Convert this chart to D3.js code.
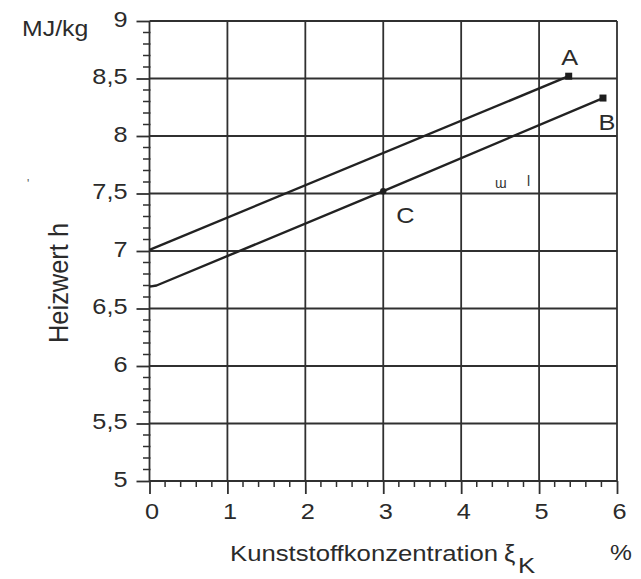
<!DOCTYPE html>
<html>
<head>
<meta charset="utf-8">
<script src="https://cdn.jsdelivr.net/npm/d3@7"></script>
<style>
  body { margin: 0; background: #fff; }
  svg { display: block; background: #fff; }
  text { font-family: "Liberation Sans", Arial, Helvetica, sans-serif; fill: #2b2b2b; }
</style>
</head>
<body>
<svg id="chart" width="641" height="579"></svg>
<script>
// Axis ticks
const xTicks = [0, 1, 2, 3, 4, 5, 6];
const yTicks = [5, 5.5, 6, 6.5, 7, 7.5, 8, 8.5, 9];
const xMinorStep = 0.2;
const yMinorStep = 0.1;

// Heating value lines (plastic concentration %, MJ/kg)
const lineA = [[0, 7.01], [5.38, 8.52]];
const lineB = [[0, 6.69], [0.09, 6.70], [3, 7.52], [5.82, 8.33]];
const pointC = [3, 7.52];

// Point labels: name, anchored data point
const pointNames = ["A", "B", "C"];
const pointAt = [[5.38, 8.52], [5.82, 8.33], [3, 7.52]];
const pointLabelOffset = [[1, -11], [4, 32], [22, 32]];

const yUnit = "MJ/kg";
const yTitle = "Heizwert h";
const xTitle = "Kunststoffkonzentration";
const xSymbol = "ξ";
const xSub = "K";
const xUnit = "%";

const svg = d3.select("#chart");
const x = d3.scaleLinear().domain([0, 6]).range([149.5, 617]);
const y = d3.scaleLinear().domain([5, 9]).range([481, 21]);
const stretch = 1.15;
const ink = "#303030";
const fmt = d => String(d).replace(".", ",");

// Grid
const grid = svg.append("g").attr("stroke", ink).attr("stroke-width", 1.8);
grid.selectAll("line.h").data(yTicks).join("line")
  .attr("x1", x(0)).attr("x2", x(6))
  .attr("y1", d => y(d)).attr("y2", d => y(d));
grid.selectAll("line.v").data(xTicks).join("line")
  .attr("x1", d => x(d)).attr("x2", d => x(d))
  .attr("y1", y(9)).attr("y2", y(5));

// Minor ticks
const yMinor = d3.range(5, 9.0001, yMinorStep).filter(v => Math.abs(v * 2 - Math.round(v * 2)) > 1e-6);
svg.append("g").attr("stroke", ink).attr("stroke-width", 1.5)
  .selectAll("line").data(yMinor).join("line")
  .attr("x1", x(0) - 6.5).attr("x2", x(0) + 1)
  .attr("y1", d => y(d)).attr("y2", d => y(d));
const xMinor = d3.range(0, 6.0001, xMinorStep).filter(v => Math.abs(v - Math.round(v)) > 1e-6);
svg.append("g").attr("stroke", ink).attr("stroke-width", 1.5)
  .selectAll("line").data(xMinor).join("line")
  .attr("x1", d => x(d)).attr("x2", d => x(d))
  .attr("y1", y(5)).attr("y2", y(5) + 6);

// Axes
const yAxis = svg.append("g").attr("transform", `translate(${x(0)},0)`)
  .call(d3.axisLeft(y).tickValues(yTicks).tickSize(13).tickFormat(fmt));
const xAxis = svg.append("g").attr("transform", `translate(0,${y(5)})`)
  .call(d3.axisBottom(x).tickValues(xTicks).tickSize(13).tickFormat(fmt));
[yAxis, xAxis].forEach(g => {
  g.select(".domain").remove();
  g.selectAll(".tick line").attr("stroke", ink).attr("stroke-width", 1.8);
  g.selectAll(".tick text").attr("fill", "#2b2b2b").style("font-size", "22px")
    .attr("font-family", null).attr("x", 0).attr("y", 0).attr("dy", null);
});
yAxis.selectAll(".tick text").attr("text-anchor", "end")
  .attr("transform", `translate(-22,5) scale(${stretch},1)`);
xAxis.selectAll(".tick text").attr("text-anchor", "middle")
  .attr("transform", `translate(2,38) scale(${stretch},1)`);

// Curves
const line = d3.line().x(d => x(d[0])).y(d => y(d[1]));
svg.selectAll("path.curve").data([lineA, lineB]).join("path")
  .attr("class", "curve")
  .attr("d", line).attr("fill", "none")
  .attr("stroke", "#222").attr("stroke-width", 2.4).attr("stroke-linejoin", "round");

// End markers and point C
svg.selectAll("rect.end").data([lineA[lineA.length - 1], lineB[lineB.length - 1]]).join("rect")
  .attr("x", d => x(d[0]) - 3.5).attr("y", d => y(d[1]) - 3.5)
  .attr("width", 7).attr("height", 7).attr("fill", "#1e1e1e");
svg.append("circle").attr("cx", x(pointC[0])).attr("cy", y(pointC[1])).attr("r", 3.2).attr("fill", "#1e1e1e");

// Point names
svg.selectAll("text.pname").data(pointNames).join("text")
  .attr("text-anchor", "middle").style("font-size", "22px")
  .attr("transform", (d, i) => `translate(${x(pointAt[i][0]) + pointLabelOffset[i][0]},${y(pointAt[i][1]) + pointLabelOffset[i][1]}) scale(${stretch},1)`)
  .text(d => d);

// Titles
svg.append("text").style("font-size", "22px")
  .attr("transform", `translate(22,36) scale(1.13,1)`).text(yUnit);
svg.append("text").style("font-size", "24px").attr("text-anchor", "middle")
  .attr("textLength", 120).attr("lengthAdjust", "spacingAndGlyphs")
  .attr("transform", `translate(68,283) scale(1.12,1) rotate(-90)`).text(yTitle);
svg.append("text").style("font-size", "22px")
  .attr("x", 230).attr("y", 561)
  .attr("textLength", 268).attr("lengthAdjust", "spacingAndGlyphs").text(xTitle);
svg.append("text").style("font-size", "23px")
  .attr("transform", `translate(504,562) scale(1.1,1)`).text(xSymbol);
svg.append("text").style("font-size", "23px")
  .attr("transform", `translate(518,573) scale(1.12,1)`).text(xSub);
svg.append("text").style("font-size", "22px")
  .attr("transform", `translate(610,560) scale(1.12,1)`).text(xUnit);

// Small stray print marks
svg.append("text").style("font-size", "14px").style("fill", "#333").attr("x", 495).attr("y", 188).text("ɯ");
svg.append("text").style("font-size", "14px").style("fill", "#333").attr("x", 527).attr("y", 186).text("l");
svg.append("text").style("font-size", "12px").style("fill", "#555").attr("x", 27).attr("y", 188).text("'");
</script>
</body>
</html>
